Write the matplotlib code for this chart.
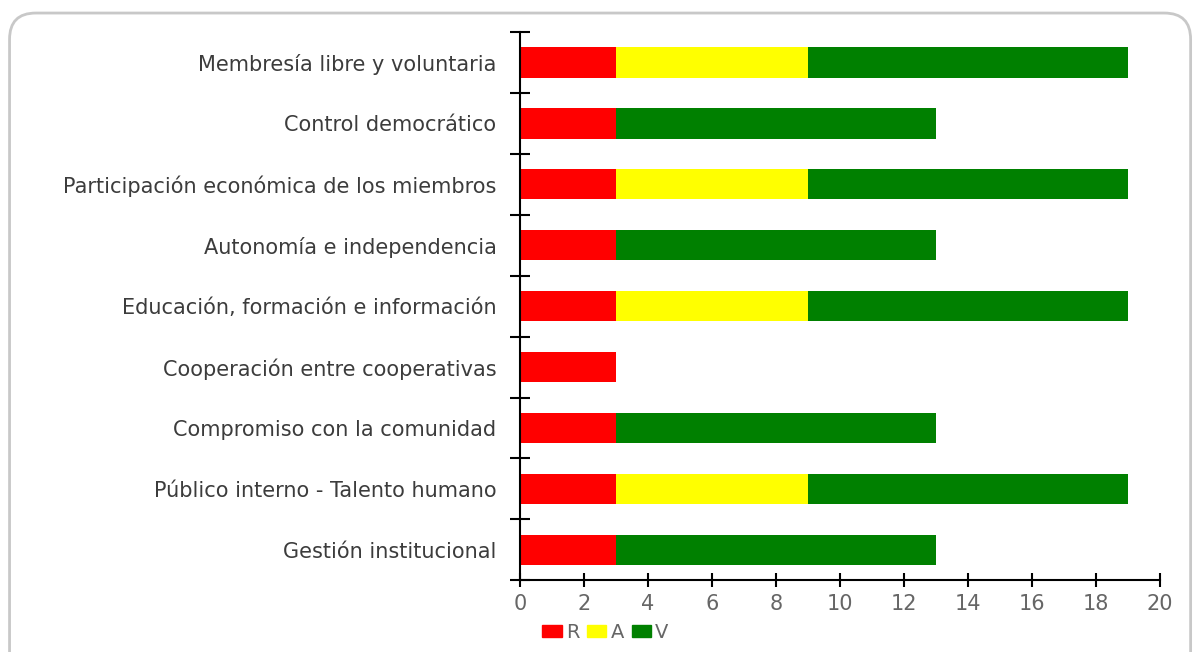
import numpy as np
import matplotlib.pyplot as plt
from matplotlib.patches import FancyBboxPatch, Patch

plt.rcParams['font.family'] = ['DejaVu Sans']

categorias = ['Membresía libre y voluntaria', 'Control democrático',
              'Participación económica de los miembros', 'Autonomía e independencia',
              'Educación, formación e información', 'Cooperación entre cooperativas',
              'Compromiso con la comunidad', 'Público interno - Talento humano',
              'Gestión institucional']
r_vals = [3, 3, 3, 3, 3, 3, 3, 3, 3]
a_vals = [6, 0, 6, 0, 6, 0, 0, 6, 0]
v_vals = [10, 10, 10, 10, 10, 0, 10, 10, 10]

fig = plt.figure(figsize=(11.93, 6.52), dpi=100)
# rounded frame around everything
fig.patches.append(FancyBboxPatch((0.008, -0.05), 0.99, 1.03, boxstyle='round,pad=0,rounding_size=0.022',
                                  transform=fig.transFigure, fill=False, edgecolor='#c8c8c8', lw=2,
                                  mutation_aspect=1193 / 652))
ax = fig.add_axes([0.436, 0.110, 0.536, 0.841])

y = np.arange(len(categorias))[::-1]
r = np.array(r_vals)
a = np.array(a_vals)
v = np.array(v_vals)
ax.barh(y, r, height=0.5, color='#ff0000', label='R')
ax.barh(y, a, left=r, height=0.5, color='#ffff00', label='A')
ax.barh(y, v, left=r + a, height=0.5, color='#008000', label='V')

ax.set_xlim(0, 20)
ax.set_ylim(-0.5, len(categorias) - 0.5)
ax.set_xticks(range(0, 21, 2))
ax.set_yticks(y)
ax.set_yticklabels(categorias, fontsize=15, color='#3c3c3c')
ax.tick_params(axis='y', length=0, pad=17)
ax.set_yticks(np.arange(-0.5, len(categorias)), minor=True)
ax.tick_params(axis='y', which='minor', direction='inout', length=14, width=1.5)
ax.tick_params(axis='x', direction='inout', length=10, width=1.5, labelsize=15,
               labelcolor='#666666', pad=5)
for s in ['top', 'right']:
    ax.spines[s].set_visible(False)
ax.spines['left'].set_linewidth(1.5)
ax.spines['bottom'].set_linewidth(1.5)

handles = [Patch(color='#ff0000'), Patch(color='#ffff00'), Patch(color='#008000')]
fig.legend(handles, ['R', 'A', 'V'], loc='center left', bbox_to_anchor=(0.44, 0.03), ncol=3,
           frameon=False, fontsize=14, handlelength=1.0, handleheight=0.55,
           handletextpad=0.2, columnspacing=0.4, labelcolor='#666666')

fig.savefig('out.png', dpi=100)
